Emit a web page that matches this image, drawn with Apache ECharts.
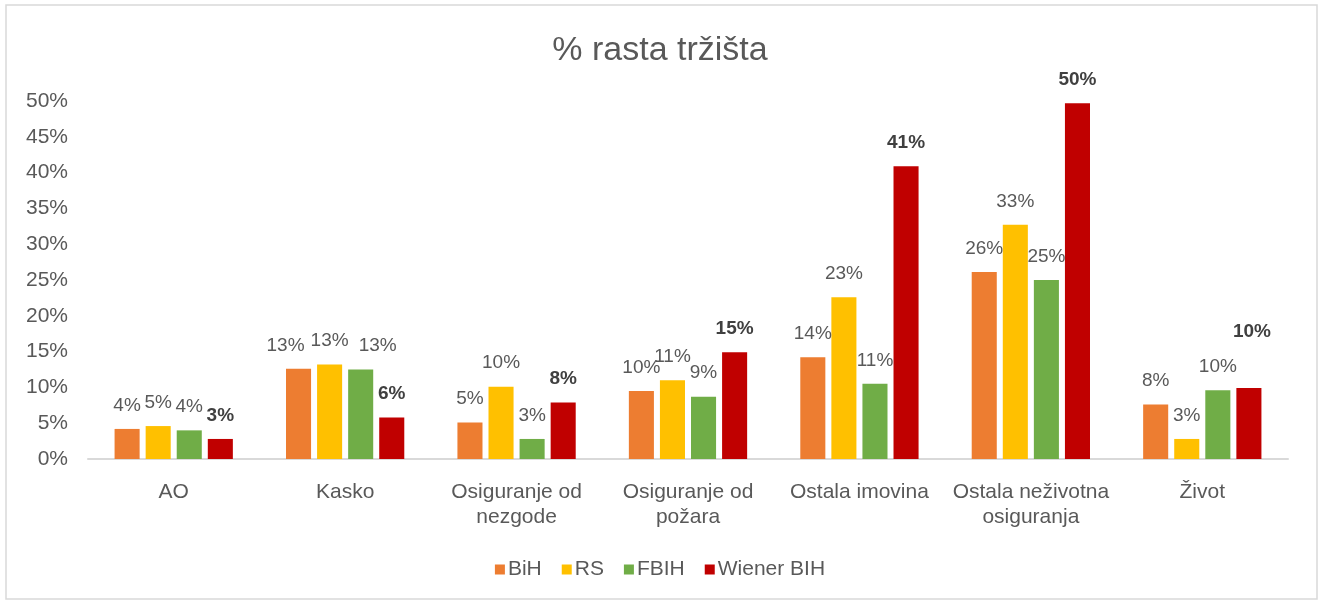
<!DOCTYPE html>
<html>
<head>
<meta charset="utf-8">
<script src="https://cdn.jsdelivr.net/npm/echarts@6/dist/echarts.min.js"></script>
<style>
  html, body { margin: 0; padding: 0; background: #fff; }
  #chart { width: 1320px; height: 604px; }
</style>
</head>
<body>
<div id="chart"></div>
<script>
// kategorije i vrijednosti (%)
const categories = ['AO', 'Kasko', 'Osiguranje od\nnezgode', 'Osiguranje od\npožara', 'Ostala imovina', 'Ostala neživotna\nosiguranja', 'Život']
const seriesNames = ['BiH', 'RS', 'FBIH', 'Wiener BIH']
const bihValues = [4.2, 12.6, 5.1, 9.5, 14.2, 26.1, 7.6]
const rsValues = [4.6, 13.2, 10.1, 11.0, 22.6, 32.7, 2.8]
const fbihValues = [4.0, 12.5, 2.8, 8.7, 10.5, 25.0, 9.6]
const wienerValues = [2.8, 5.8, 7.9, 14.9, 40.9, 49.7, 9.9]
const yTicks = [0, 5, 10, 15, 20, 25, 30, 35, 40, 45, 50]

const colors = ['#ED7D31', '#FFC000', '#70AD47', '#C00000']
const font = 'Liberation Sans, Arial, sans-serif'

// ručno pomaknute oznake u originalu: serija -> { indeks kategorije: [dx, dy] }
const labelShift = {
  'BiH': { 1: [-13, 0] },
  'FBIH': { 1: [17, 0] },
  'Wiener BIH': { 6: [3, -33] }
}

let myChart = echarts.init(document.getElementById('chart'))

function makeSeries (name, data, color, bold) {
  let shift = labelShift[name] || {}
  return {
    name: name,
    type: 'bar',
    data: data.map((v, i) => {
      if (shift[i]) return { value: v, label: { offset: shift[i] } }
      return v
    }),
    barGap: '24%',
    barCategoryGap: '31%',
    itemStyle: { color: color },
    label: {
      show: true,
      position: 'top',
      distance: 14,
      fontFamily: font,
      fontSize: 19,
      fontWeight: bold ? 'bold' : 'normal',
      color: bold ? '#404040' : '#595959',
      formatter: p => Math.round(p.value) + '%'
    }
  }
}

myChart.setOption({
  animation: false,
  title: {
    text: '% rasta tržišta',
    left: 'center',
    top: 29,
    textStyle: { fontFamily: font, fontSize: 34, fontWeight: 'normal', color: '#595959' }
  },
  legend: {
    data: seriesNames,
    bottom: 19,
    left: 'center',
    icon: 'rect',
    itemWidth: 10,
    itemHeight: 10,
    itemGap: 20,
    textStyle: { fontFamily: font, fontSize: 21, color: '#595959', padding: [0, 0, 0, -2] }
  },
  grid: {
    left: 88,
    right: 32,
    top: 101,
    bottom: 145
  },
  graphic: [{
    type: 'rect',
    shape: { x: 6, y: 5, width: 1311, height: 594 },
    style: { fill: 'none', stroke: '#d9d9d9', lineWidth: 1.5 },
    silent: true
  }],
  xAxis: {
    type: 'category',
    data: categories,
    axisTick: { show: false },
    axisLine: { lineStyle: { color: '#d9d9d9', width: 2 } },
    axisLabel: {
      interval: 0,
      margin: 21,
      fontFamily: font,
      fontSize: 21,
      lineHeight: 25,
      color: '#595959'
    }
  },
  yAxis: {
    type: 'value',
    min: yTicks[0],
    max: yTicks[yTicks.length - 1],
    interval: 5,
    axisLine: { show: false },
    axisTick: { show: false },
    splitLine: { show: false },
    axisLabel: {
      margin: 20,
      fontFamily: font,
      fontSize: 21,
      color: '#595959',
      formatter: v => v + '%'
    }
  },
  series: [
    makeSeries(seriesNames[0], bihValues, colors[0], false),
    makeSeries(seriesNames[1], rsValues, colors[1], false),
    makeSeries(seriesNames[2], fbihValues, colors[2], false),
    makeSeries(seriesNames[3], wienerValues, colors[3], true)
  ]
})
</script>
</body>
</html>
